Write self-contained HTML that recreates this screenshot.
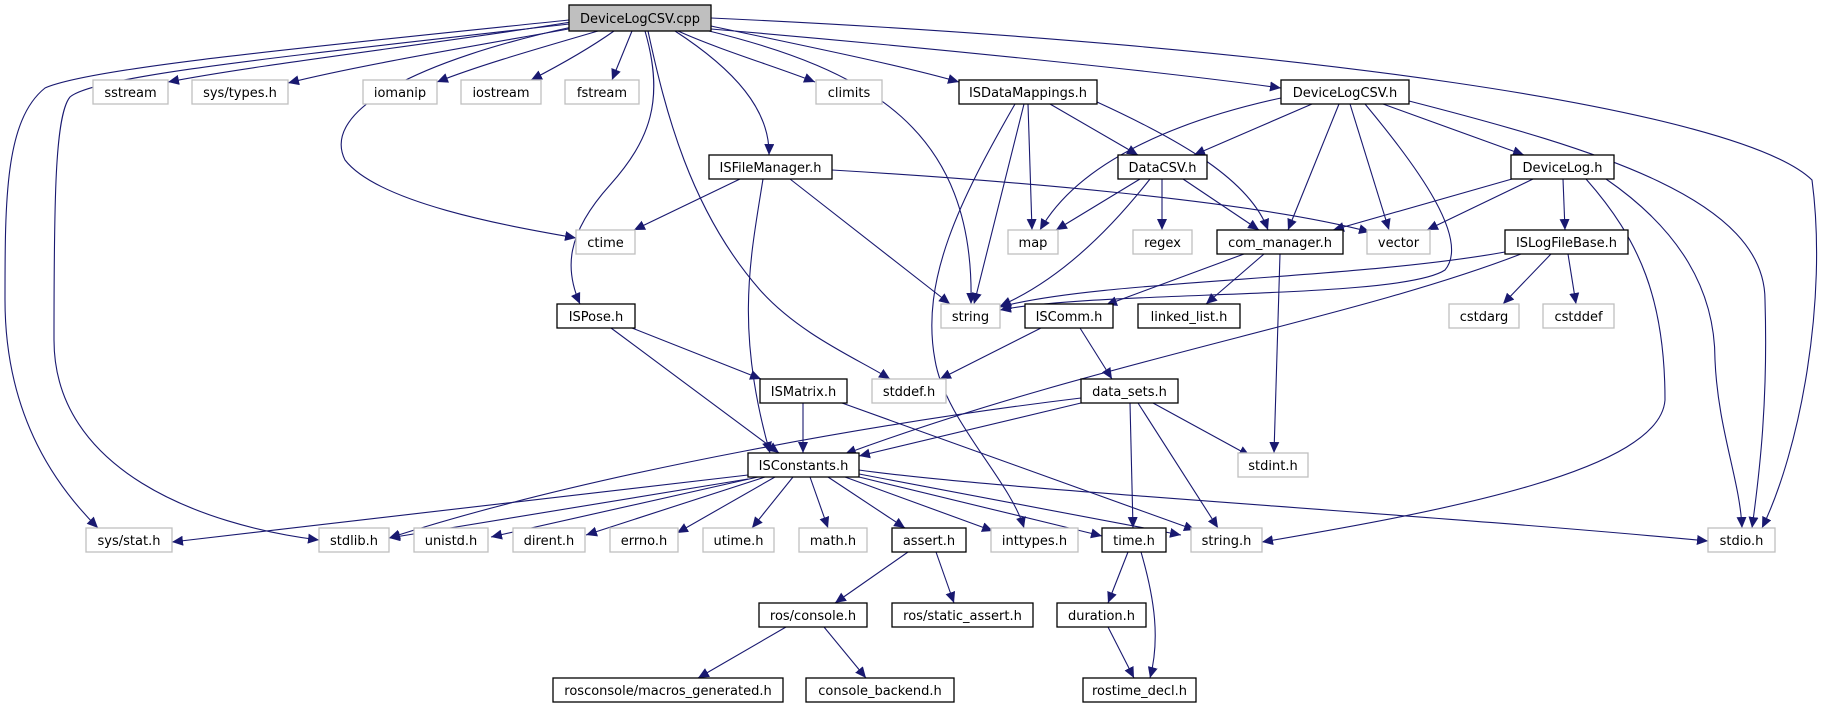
<!DOCTYPE html>
<html><head><meta charset="utf-8"><style>
html,body{margin:0;padding:0;background:#fff;width:1823px;height:709px;overflow:hidden}
svg text{font-family:"DejaVu Sans","Liberation Sans",sans-serif;font-size:13px;fill:#000;text-anchor:middle}
</style></head><body>
<svg width="1823" height="709" viewBox="0 0 1823 709" xmlns="http://www.w3.org/2000/svg">
<defs>
<marker id="a" markerUnits="userSpaceOnUse" markerWidth="12" markerHeight="10" refX="11" refY="5" orient="auto">
<path d="M0,0 L11,5 L0,10 z" fill="#191970"/>
</marker>
</defs>
<g fill="none" stroke="#191970" stroke-width="1.1" marker-end="url(#a)">
<!-- root -->
<path d="M571,22 C450,42 260,64 168,82"/>
<path d="M574,28 C480,45 360,65 288,83"/>
<path d="M598,31 C540,48 480,65 437,82"/>
<path d="M614,31 C590,48 560,65 531,80"/>
<path d="M632,31 C625,48 618,65 612,80"/>
<path d="M678,31 C720,50 780,68 815,82"/>
<path d="M572,27 C420,60 320,110 345,160 C380,205 520,228 576,238"/>
<path d="M645,31 C665,100 650,140 610,185 C565,235 565,270 580,304"/>
<path d="M675,31 C735,70 770,110 769,155"/>
<path d="M648,31 C665,110 690,210 760,290 C800,335 860,360 890,379"/>
<path d="M705,30 C870,70 975,130 971,304"/>
<path d="M711,26 C800,45 900,65 959,82"/>
<path d="M711,29 C900,45 1150,70 1281,88"/>
<path d="M711,18 C1300,45 1740,110 1812,180 C1828,300 1800,450 1762,528"/>
<path d="M569,20 C300,48 90,68 45,88 C5,120 5,200 5,300 C5,420 60,490 98,528"/>
<path d="M569,24 C300,55 95,75 70,97 C55,115 54,200 54,340 C54,470 200,525 319,540"/>
<!-- ISDataMappings -->
<path d="M1028,104 L1032,230"/>
<path d="M1024,104 L974,304"/>
<path d="M1050,104 L1138,155"/>
<path d="M1097,102 C1180,140 1250,180 1268,230"/>
<path d="M1015,104 C960,200 920,280 935,360 C945,420 1010,480 1024,528"/>
<!-- DeviceLogCSV.h -->
<path d="M1281,98 C1180,120 1080,160 1040,230"/>
<path d="M1312,104 L1194,155"/>
<path d="M1339,104 L1288,230"/>
<path d="M1350,104 L1389,230"/>
<path d="M1365,104 C1420,170 1470,240 1445,270 C1400,300 1100,290 1000,310"/>
<path d="M1383,104 L1524,155"/>
<path d="M1409,101 C1600,150 1765,200 1765,300 C1768,400 1760,470 1752,528"/>
<!-- ISFileManager -->
<path d="M740,179 L634,230"/>
<path d="M763,179 C750,260 735,330 770,453"/>
<path d="M790,179 L950,304"/>
<path d="M832,170 C1000,180 1250,200 1370,232"/>
<!-- DataCSV -->
<path d="M1140,179 L1056,230"/>
<path d="M1162,179 L1162,230"/>
<path d="M1183,179 L1259,230"/>
<path d="M1150,179 C1110,230 1060,280 1000,306"/>
<!-- DeviceLog -->
<path d="M1512,179 L1333,230"/>
<path d="M1533,179 L1427,230"/>
<path d="M1563,179 L1565,230"/>
<path d="M1586,179 C1640,240 1665,300 1665,400 C1660,470 1450,510 1262,542"/>
<path d="M1606,179 C1680,230 1715,290 1715,360 C1718,430 1740,480 1742,528"/>
<!-- com_manager -->
<path d="M1244,254 L1106,305"/>
<path d="M1264,254 L1206,304"/>
<path d="M1280,254 L1274,453"/>
<!-- ISLogFileBase -->
<path d="M1505,252 C1350,280 1100,280 1000,307"/>
<path d="M1521,254 C1350,320 1100,360 845,454"/>
<path d="M1551,254 L1503,304"/>
<path d="M1568,254 L1576,304"/>
<!-- ISPose -->
<path d="M632,328 L761,379"/>
<path d="M611,328 L779,453"/>
<!-- ISComm -->
<path d="M1041,328 L940,379"/>
<path d="M1080,328 L1112,379"/>
<!-- ISMatrix -->
<path d="M803,403 L803,453"/>
<path d="M842,403 L1195,530"/>
<!-- data_sets -->
<path d="M1081,403 L859,456"/>
<path d="M1081,398 C900,420 600,470 389,538"/>
<path d="M1153,403 L1250,456"/>
<path d="M1130,403 L1133,528"/>
<path d="M1138,403 L1218,528"/>
<!-- ISConstants -->
<path d="M748,475 L172,542"/>
<path d="M748,479 L389,538"/>
<path d="M758,477 L491,537"/>
<path d="M765,477 L586,535"/>
<path d="M775,477 L677,533"/>
<path d="M793,477 L752,528"/>
<path d="M810,477 L828,528"/>
<path d="M828,477 L905,528"/>
<path d="M845,477 L993,531"/>
<path d="M859,477 L1102,536"/>
<path d="M859,474 L1181,535"/>
<path d="M859,470 C1000,490 1400,512 1708,541"/>
<!-- assert -->
<path d="M908,552 L835,603"/>
<path d="M936,552 L954,603"/>
<!-- time -->
<path d="M1128,552 L1108,603"/>
<path d="M1141,552 C1155,600 1160,640 1150,678"/>
<path d="M1108,627 L1134,678"/>
<!-- ros/console -->
<path d="M786,627 L698,678"/>
<path d="M824,627 L866,678"/>
</g>
<g stroke-width="1.3">
<rect x="569" y="5" width="142" height="26" fill="#bfbfbf" stroke="#000"/>
<g fill="#fff" stroke="#000">
<rect x="959" y="80" width="138" height="24"/>
<rect x="1281" y="80" width="128" height="24"/>
<rect x="709" y="155" width="123" height="24"/>
<rect x="1118" y="155" width="89" height="24"/>
<rect x="1511" y="155" width="103" height="24"/>
<rect x="1217" y="230" width="126" height="24"/>
<rect x="1505" y="230" width="123" height="24"/>
<rect x="557" y="304" width="78" height="24"/>
<rect x="1025" y="304" width="88" height="24"/>
<rect x="1138" y="304" width="102" height="24"/>
<rect x="760" y="379" width="87" height="24"/>
<rect x="1081" y="379" width="97" height="24"/>
<rect x="748" y="453" width="111" height="24"/>
<rect x="892" y="528" width="74" height="24"/>
<rect x="1102" y="528" width="64" height="24"/>
<rect x="759" y="603" width="108" height="24"/>
<rect x="892" y="603" width="141" height="24"/>
<rect x="1057" y="603" width="89" height="24"/>
<rect x="553" y="678" width="230" height="24"/>
<rect x="806" y="678" width="148" height="24"/>
<rect x="1083" y="678" width="113" height="24"/>
</g>
<g fill="#fff" stroke="#bfbfbf">
<rect x="93" y="80" width="75" height="24"/>
<rect x="192" y="80" width="96" height="24"/>
<rect x="363" y="80" width="74" height="24"/>
<rect x="461" y="80" width="80" height="24"/>
<rect x="565" y="80" width="74" height="24"/>
<rect x="816" y="80" width="66" height="24"/>
<rect x="576" y="230" width="59" height="24"/>
<rect x="1008" y="230" width="50" height="24"/>
<rect x="1133" y="230" width="59" height="24"/>
<rect x="1367" y="230" width="63" height="24"/>
<rect x="941" y="304" width="59" height="24"/>
<rect x="1449" y="304" width="70" height="24"/>
<rect x="1543" y="304" width="71" height="24"/>
<rect x="872" y="379" width="74" height="24"/>
<rect x="1238" y="453" width="70" height="24"/>
<rect x="86" y="528" width="86" height="24"/>
<rect x="319" y="528" width="70" height="24"/>
<rect x="414" y="528" width="74" height="24"/>
<rect x="513" y="528" width="72" height="24"/>
<rect x="610" y="528" width="68" height="24"/>
<rect x="703" y="528" width="71" height="24"/>
<rect x="799" y="528" width="68" height="24"/>
<rect x="991" y="528" width="87" height="24"/>
<rect x="1191" y="528" width="71" height="24"/>
<rect x="1708" y="528" width="67" height="24"/>
</g>
</g>
<g>
<text x="640" y="23">DeviceLogCSV.cpp</text>
<text x="130.5" y="97">sstream</text>
<text x="240" y="97">sys/types.h</text>
<text x="400" y="97">iomanip</text>
<text x="501" y="97">iostream</text>
<text x="602" y="97">fstream</text>
<text x="849" y="97">climits</text>
<text x="1028" y="97">ISDataMappings.h</text>
<text x="1345" y="97">DeviceLogCSV.h</text>
<text x="770.5" y="172">ISFileManager.h</text>
<text x="1162.5" y="172">DataCSV.h</text>
<text x="1562.5" y="172">DeviceLog.h</text>
<text x="605.5" y="247">ctime</text>
<text x="1033" y="247">map</text>
<text x="1162.5" y="247">regex</text>
<text x="1280" y="247">com_manager.h</text>
<text x="1398.5" y="247">vector</text>
<text x="1566.5" y="247">ISLogFileBase.h</text>
<text x="596" y="321">ISPose.h</text>
<text x="970.5" y="321">string</text>
<text x="1069" y="321">ISComm.h</text>
<text x="1189" y="321">linked_list.h</text>
<text x="1484" y="321">cstdarg</text>
<text x="1578.5" y="321">cstddef</text>
<text x="803.5" y="396">ISMatrix.h</text>
<text x="909" y="396">stddef.h</text>
<text x="1129.5" y="396">data_sets.h</text>
<text x="803.5" y="470">ISConstants.h</text>
<text x="1273" y="470">stdint.h</text>
<text x="129" y="545">sys/stat.h</text>
<text x="354" y="545">stdlib.h</text>
<text x="451" y="545">unistd.h</text>
<text x="549" y="545">dirent.h</text>
<text x="644" y="545">errno.h</text>
<text x="738.5" y="545">utime.h</text>
<text x="833" y="545">math.h</text>
<text x="929" y="545">assert.h</text>
<text x="1034.5" y="545">inttypes.h</text>
<text x="1134" y="545">time.h</text>
<text x="1226.5" y="545">string.h</text>
<text x="1741.5" y="545">stdio.h</text>
<text x="813" y="620">ros/console.h</text>
<text x="962.5" y="620">ros/static_assert.h</text>
<text x="1101.5" y="620">duration.h</text>
<text x="668" y="695">rosconsole/macros_generated.h</text>
<text x="880" y="695">console_backend.h</text>
<text x="1139.5" y="695">rostime_decl.h</text>
</g>
</svg>
</body></html>
